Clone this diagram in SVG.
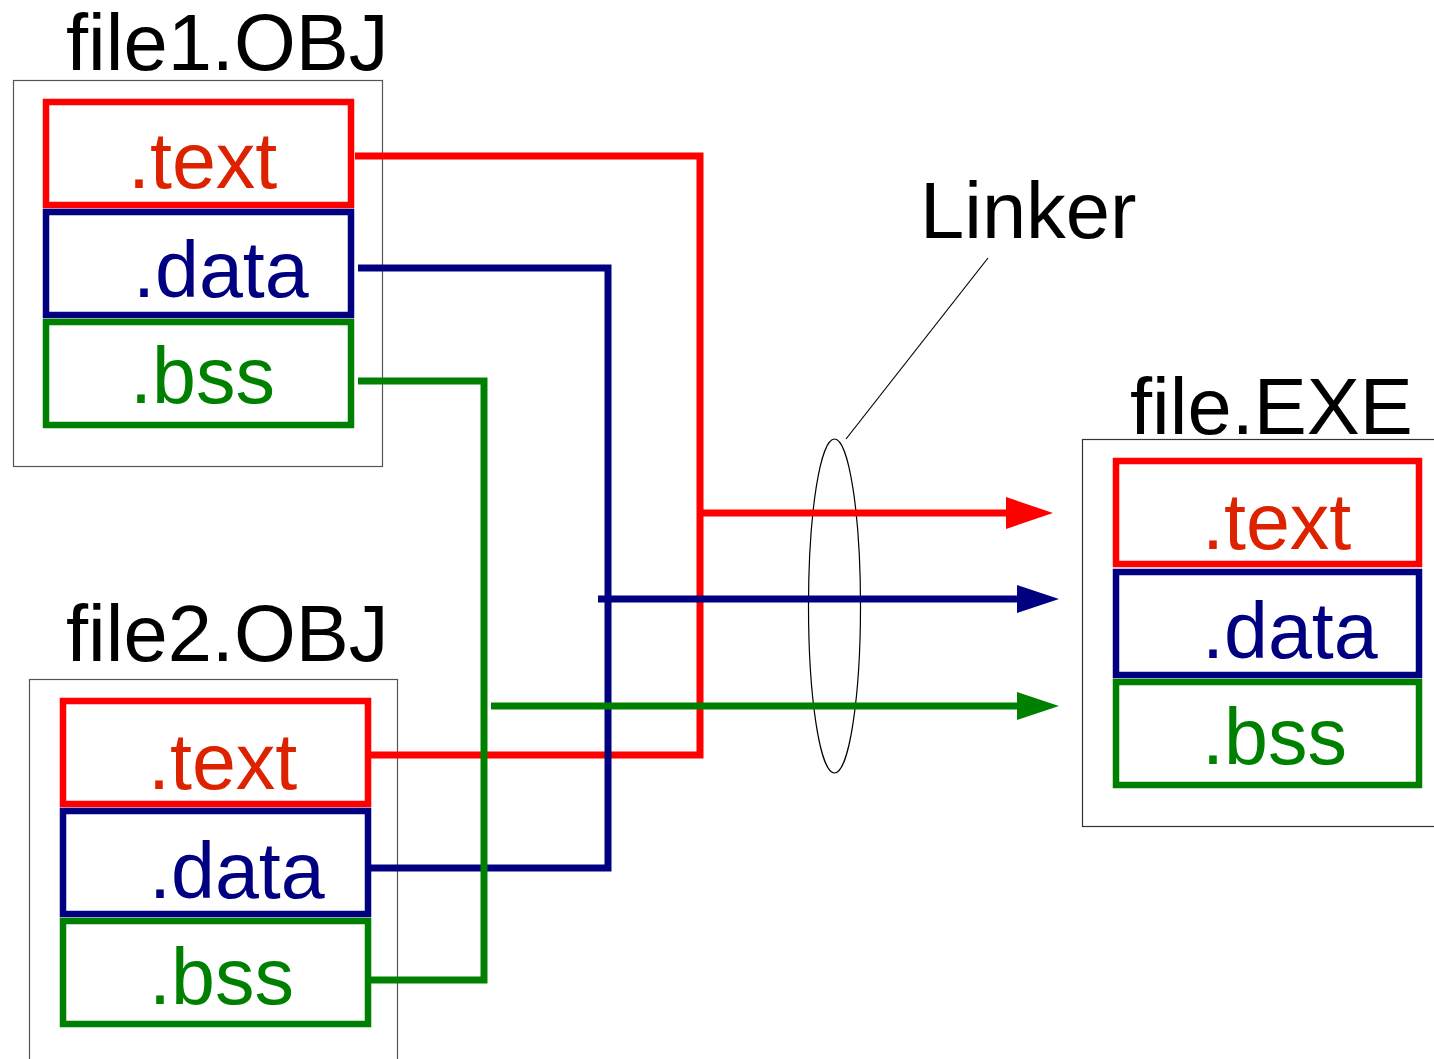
<svg xmlns="http://www.w3.org/2000/svg" width="1434" height="1059" viewBox="0 0 1434 1059">
<style>
  .outer { fill: #ffffff; stroke: #555555; stroke-width: 1.2; }
  .sec { fill: none; stroke-width: 6.5; }
  .r { stroke: #ff0000; }
  .b { stroke: #000080; }
  .g { stroke: #008000; }
  .lbl { font-family: "Liberation Sans", Arial, sans-serif; font-size: 79px; }
  .title { font-family: "Liberation Sans", Arial, sans-serif; font-size: 79.5px; fill: #000000; }
  .tr { fill: #dd2200; }
  .tb { fill: #000080; }
  .tg { fill: #008000; }
  .conn { fill: none; stroke-width: 7; stroke-linejoin: miter; stroke-linecap: butt; }
</style>
<defs>
  <marker id="ahR" markerUnits="userSpaceOnUse" markerWidth="48" markerHeight="34" viewBox="0 -17 48 34" refX="0" refY="0" orient="auto">
    <path d="M0,-16 L47,0 L0,16 z" fill="#ff0000"/>
  </marker>
  <marker id="ahB" markerUnits="userSpaceOnUse" markerWidth="44" markerHeight="30" viewBox="0 -15 44 30" refX="0" refY="0" orient="auto">
    <path d="M0,-14 L42,0 L0,14 z" fill="#000080"/>
  </marker>
  <marker id="ahG" markerUnits="userSpaceOnUse" markerWidth="44" markerHeight="30" viewBox="0 -15 44 30" refX="0" refY="0" orient="auto">
    <path d="M0,-14 L42,0 L0,14 z" fill="#008000"/>
  </marker>
</defs>
<rect width="1434" height="1059" fill="#ffffff"/>

<g id="file1">
  <text class="title" x="66" y="70">file1.OBJ</text>
  <rect class="outer" x="13.5" y="80.5" width="369" height="386"/>
  <g id="file1-text">
    <rect class="sec r" x="46" y="102" width="305" height="103"/>
    <text class="lbl tr" x="128" y="188">.text</text>
  </g>
  <g id="file1-data">
    <rect class="sec b" x="46" y="212" width="305" height="103"/>
    <text class="lbl tb" x="133" y="297">.data</text>
  </g>
  <g id="file1-bss">
    <rect class="sec g" x="46" y="322" width="305" height="103"/>
    <text class="lbl tg" x="130" y="403">.bss</text>
  </g>
</g>

<g id="file2">
  <text class="title" x="66" y="661">file2.OBJ</text>
  <rect class="outer" x="29.5" y="679.5" width="368" height="420"/>
  <g id="file2-text">
    <rect class="sec r" x="63" y="701" width="305" height="103"/>
    <text class="lbl tr" x="148" y="789">.text</text>
  </g>
  <g id="file2-data">
    <rect class="sec b" x="63" y="811" width="305" height="103"/>
    <text class="lbl tb" x="149" y="898">.data</text>
  </g>
  <g id="file2-bss">
    <rect class="sec g" x="63" y="921" width="305" height="103"/>
    <text class="lbl tg" x="149" y="1004">.bss</text>
  </g>
</g>

<g id="fileexe">
  <text class="title" x="1130" y="434">file.EXE</text>
  <rect class="outer" x="1082.5" y="439.5" width="400" height="387" style="stroke:#333333"/>
  <g id="exe-text">
    <rect class="sec r" x="1116" y="461" width="303" height="103"/>
    <text class="lbl tr" x="1202" y="549">.text</text>
  </g>
  <g id="exe-data">
    <rect class="sec b" x="1116" y="572" width="303" height="103"/>
    <text class="lbl tb" x="1202" y="658">.data</text>
  </g>
  <g id="exe-bss">
    <rect class="sec g" x="1116" y="682" width="303" height="103"/>
    <text class="lbl tg" x="1202" y="764">.bss</text>
  </g>
</g>

<g id="linker">
  <ellipse cx="834.5" cy="606" rx="26" ry="167" fill="none" stroke="#000000" stroke-width="1.2"/>
  <line x1="846" y1="439" x2="988" y2="258" stroke="#000000" stroke-width="1.2"/>
  <text class="title" x="920" y="238">Linker</text>
</g>

<g id="connectors">
  <path class="conn r" d="M355,156 H700 V755 H368"/>
  <path class="conn r" d="M703,513 H1006" marker-end="url(#ahR)"/>
  <path class="conn b" d="M358,268 H608 V868 H368"/>
  <path class="conn b" d="M598,599 H1017" marker-end="url(#ahB)"/>
  <path class="conn g" d="M358,381 H484 V980 H368"/>
  <path class="conn g" d="M491,706 H1017" marker-end="url(#ahG)"/>
</g>
</svg>
